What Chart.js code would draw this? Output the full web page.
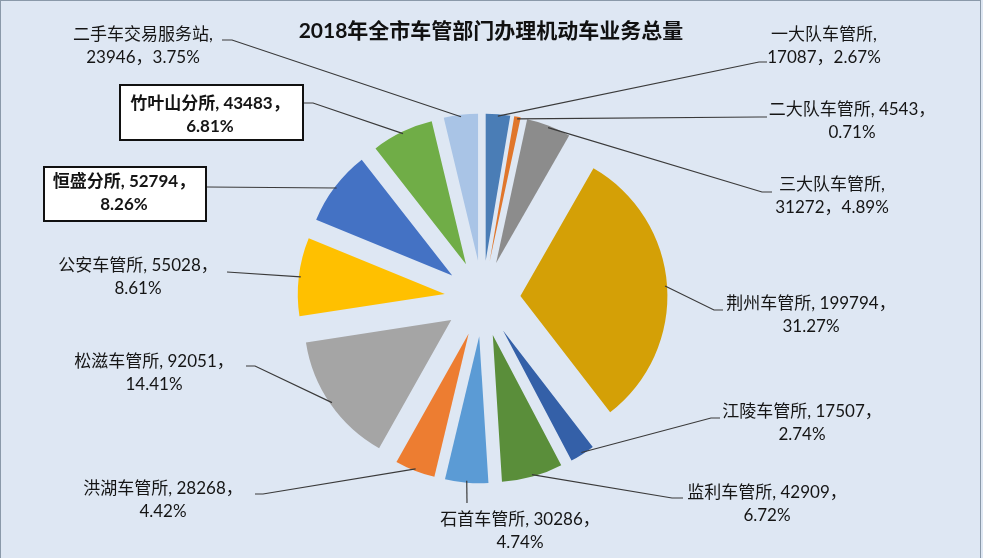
<!DOCTYPE html>
<html>
<head>
<meta charset="utf-8">
<script src="https://cdn.jsdelivr.net/npm/chart.js@4/dist/chart.umd.min.js"></script>
<style>
html,body{margin:0;padding:0;background:#ffffff;}
#wrap{position:relative;width:983px;height:558px;background:#DEE7F3;}
#frame{position:absolute;left:0;top:0;width:981px;height:560px;border:1px solid #8A99A9;box-sizing:border-box;pointer-events:none;}
canvas{display:block;}
</style>
</head>
<body>
<div id="wrap"><canvas id="c"></canvas><div id="frame"></div></div>
<script>
// ---- data ----
const titleText = "2018年全市车管部门办理机动车业务总量";
const categories = ["一大队车管所","二大队车管所","三大队车管所","荆州车管所","江陵车管所","监利车管所","石首车管所","洪湖车管所","松滋车管所","公安车管所","恒盛分所","竹叶山分所","二手车交易服务站"];
const values = [17087, 4543, 31272, 199794, 17507, 42909, 30286, 28268, 92051, 55028, 52794, 43483, 23946];
const percents = ["2.67%","0.71%","4.89%","31.27%","2.74%","6.72%","4.74%","4.42%","14.41%","8.61%","8.26%","6.81%","3.75%"];

// ---- styles ----
const colors = ["#4A7DB6","#E0762C","#8C8C8C","#D4A006","#3460A8","#5A8E3A","#5B9BD5","#ED7D31","#A5A5A5","#FFC000","#4472C4","#70AD47","#A9C4E6"];
const EXPLODE = 38;
const LINE_H = 23;
// label layout: cx = text centre x, y = first line baseline-centre y, split: 'A' name,/value，pct  'B' name, value，/pct
// ax, ay = leader end at the label, stub = horizontal stub length toward the pie (signed), box = framed label rect
const labelLayout = [
  {cx:824, y:35,  split:'A', ax:767, ay:62,  stub:-8},
  {cx:852, y:110, split:'B', ax:767, ay:117, stub:-8},
  {cx:832, y:185, split:'A', ax:772, ay:192, stub:-10},
  {cx:811, y:304, split:'B', ax:723, ay:310, stub:-9},
  {cx:802, y:412, split:'B', ax:720, ay:418, stub:-9},
  {cx:767, y:493, split:'B', ax:683, ay:498, stub:-11},
  {cx:520, y:520, split:'B', ax:467, ay:503, stub:0},
  {cx:163, y:489, split:'B', ax:255, ay:494, stub:8},
  {cx:154, y:362, split:'B', ax:246, ay:366, stub:9},
  {cx:138, y:266, split:'B', ax:227, ay:272, stub:0},
  {cx:124, y:182, split:'B', ax:207, ay:187, stub:0, bold:true, box:[44,167,162,54]},
  {cx:210, y:104, split:'B', ax:304, ay:103, stub:9, bold:true, box:[120,85,183,55]},
  {cx:143, y:35,  split:'A', ax:222, ay:40,  stub:10}
];

function labelLines(i){
  const L = labelLayout[i];
  if (L.split === 'A') return [categories[i] + ",", values[i] + "，" + percents[i]];
  return [categories[i] + ", " + values[i] + "，", percents[i]];
}

const explodePlugin = {
  id: 'explode',
  beforeDatasetDraw(chart, args){
    args.meta.data.forEach(a => {
      const m = (a.startAngle + a.endAngle) / 2;
      a.$ox = a.x; a.$oy = a.y;
      a.x = a.x + Math.cos(m) * EXPLODE;
      a.y = a.y + Math.sin(m) * EXPLODE;
    });
  },
  afterDatasetDraw(chart, args){
    args.meta.data.forEach(a => { a.x = a.$ox; a.y = a.$oy; });
  }
};

const labelPlugin = {
  id: 'labels',
  afterDatasetsDraw(chart){
    const ctx = chart.ctx;
    const meta = chart.getDatasetMeta(0);
    ctx.save();
    // title
    ctx.fillStyle = '#111';
    ctx.font = 'bold 21px Lato, "Noto Sans CJK SC", sans-serif';
    ctx.textAlign = 'center';
    ctx.textBaseline = 'middle';
    ctx.fillText(titleText, 491, 31);

    meta.data.forEach((a, i) => {
      const L = labelLayout[i];
      const m = (a.startAngle + a.endAngle) / 2;
      const r = a.outerRadius + EXPLODE - 2;
      const px = a.x + Math.cos(m) * r, py = a.y + Math.sin(m) * r;
      ctx.strokeStyle = '#3A3A3A';
      ctx.lineWidth = 1.2;
      ctx.beginPath();
      ctx.moveTo(px, py);
      ctx.lineTo(L.ax + L.stub, L.ay);
      ctx.lineTo(L.ax, L.ay);
      ctx.stroke();
      if (L.box){
        ctx.fillStyle = '#FFFFFF';
        ctx.fillRect(L.box[0], L.box[1], L.box[2], L.box[3]);
        ctx.strokeStyle = '#111';
        ctx.lineWidth = 2;
        ctx.strokeRect(L.box[0], L.box[1], L.box[2], L.box[3]);
      }
      ctx.fillStyle = '#151515';
      ctx.font = (L.bold ? 'bold ' : '') + '17px Lato, "Noto Sans CJK SC", sans-serif';
      ctx.textAlign = 'center';
      ctx.textBaseline = 'middle';
      const lines = labelLines(i);
      lines.forEach((t, k) => ctx.fillText(t, L.cx, L.y + k * LINE_H));
    });
    ctx.restore();
  }
};

new Chart(document.getElementById('c'), {
  type: 'pie',
  data: {
    labels: categories,
    datasets: [{
      data: values,
      backgroundColor: colors,
      borderWidth: 0,
      hoverOffset: 0
    }]
  },
  options: {
    responsive: true,
    maintainAspectRatio: false,
    animation: false,
    radius: 147,
    layout: { padding: { left: 0, right: 18, top: 39, bottom: 0 } },
    plugins: {
      legend: { display: false },
      tooltip: { enabled: false },
      title: { display: false }
    },
    events: []
  },
  plugins: [explodePlugin, labelPlugin]
});
</script>
</body>
</html>
